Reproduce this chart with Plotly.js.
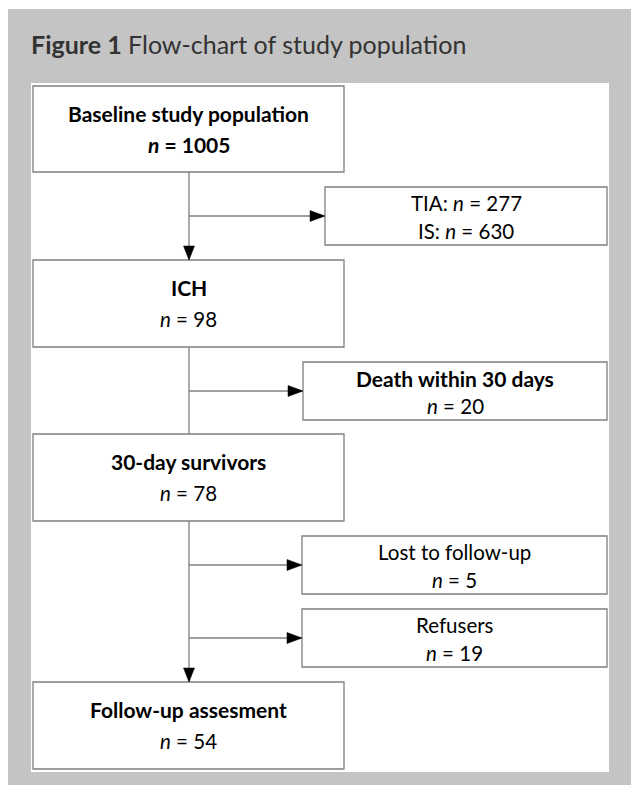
<!DOCTYPE html>
<html>
<head>
<meta charset="utf-8">
<script src="https://cdn.plot.ly/plotly-3.0.1.min.js"></script>
<style>html,body{margin:0;padding:0;background:#fff;}#chart{width:631px;height:785px;}</style>
</head>
<body>
<div id="chart"></div>
<script>
// ---- data ----
const figureTitleBold = 'Figure 1';
const figureTitle = 'Flow-chart of study population';
const mainLabels = ['Baseline study population', 'ICH', '30-day survivors', 'Follow-up assesment'];
const mainN = [1005, 98, 78, 54];
const mainNBold = [true, false, false, false];
const excludedLabels = ['Death within 30 days', 'Lost to follow-up', 'Refusers'];
const excludedN = [20, 5, 19];
const excludedBold = [true, false, false];
const otherTypeLabels = ['TIA', 'IS'];
const otherTypeN = [277, 630];

// ---- layout geometry (positions only) ----
const W = 631, H = 785;
const FONT = 'Lato, Carlito, Calibri, sans-serif';
const LINE = '#7f7f7f';
const mainX = [33, 344];
const mainY = [[86, 172], [260, 347], [434, 521], [682, 769]];
const spineX = 189;
const sideX1 = 607;
// side boxes: first = TIA/IS box, then excluded boxes
const sideX0 = [325, 303, 302, 302];
const sideY = [[187, 245], [362, 420], [536, 594], [609, 667]];
const mainFont = 20.5, boldFont = 21, titleFont = 25;

const shapes = [];
const ann = [];
// backgrounds
shapes.push({type:'rect', xref:'x', yref:'y', x0:8, x1:W, y0:9, y1:H, fillcolor:'#c4c4c4', line:{width:0}, layer:'below'});
shapes.push({type:'rect', xref:'x', yref:'y', x0:31, x1:609, y0:83, y1:772, fillcolor:'#ffffff', line:{width:0}, layer:'below'});

function box(x0, x1, y0, y1) {
  shapes.push({type:'rect', xref:'x', yref:'y', x0:x0, x1:x1, y0:y0, y1:y1, fillcolor:'#ffffff', line:{color:LINE, width:1.3}});
}
function seg(x0, y0, x1, y1) {
  shapes.push({type:'line', xref:'x', yref:'y', x0:x0, y0:y0, x1:x1, y1:y1, line:{color:LINE, width:1.3}});
}
function headRight(x, y) {
  const L = 15, hw = 5.5;
  shapes.push({type:'path', xref:'x', yref:'y', path:`M ${x} ${y} L ${x-L} ${y-hw} L ${x-L} ${y+hw} Z`, fillcolor:'#000', line:{color:'#000', width:0.5}});
}
function headDown(x, y) {
  const L = 14, hw = 5.5;
  shapes.push({type:'path', xref:'x', yref:'y', path:`M ${x} ${y} L ${x-hw} ${y-L} L ${x+hw} ${y-L} Z`, fillcolor:'#000', line:{color:'#000', width:0.5}});
}
function text(x, y, t, size, xanchor) {
  ann.push({xref:'x', yref:'y', x:x, y:y, text:t, showarrow:false, xanchor:xanchor||'center', yanchor:'middle',
    font:{family:FONT, size:size, color:'#000'}});
}
function nText(n, bold) {
  const s = '<i>n</i> = ' + n;
  return bold ? '<b>' + s + '</b>' : s;
}

// title
ann.push({xref:'x', yref:'y', x:29, y:44, xanchor:'left', yanchor:'middle', showarrow:false,
  text:'<b>' + figureTitleBold + '</b> ' + figureTitle, font:{family:FONT, size:titleFont, color:'#333333'}});

// main boxes
mainLabels.forEach((lab, i) => {
  const [y0, y1] = mainY[i];
  box(mainX[0], mainX[1], y0, y1);
  const cx = (mainX[0] + mainX[1]) / 2, cy = (y0 + y1) / 2;
  text(cx, cy - 16, '<b>' + lab + '</b>', boldFont);
  text(cx, cy + 15, nText(mainN[i], mainNBold[i]), mainNBold[i] ? boldFont : mainFont);
});

// spine connectors
seg(spineX, mainY[0][1], spineX, mainY[1][0]); headDown(spineX, mainY[1][0]);
seg(spineX, mainY[1][1], spineX, mainY[2][0]);
seg(spineX, mainY[2][1], spineX, mainY[3][0]); headDown(spineX, mainY[3][0]);

// side boxes
const sideLines = [
  [otherTypeLabels[0] + ': ' + nText(otherTypeN[0], false), otherTypeLabels[1] + ': ' + nText(otherTypeN[1], false)]
].concat(excludedLabels.map((l, i) => [excludedBold[i] ? '<b>' + l + '</b>' : l, nText(excludedN[i], false)]));
const sideFirstBold = [false].concat(excludedBold);

sideLines.forEach((lines, i) => {
  const [y0, y1] = sideY[i];
  const x0 = sideX0[i];
  box(x0, sideX1, y0, y1);
  const cx = (x0 + sideX1) / 2, cy = (y0 + y1) / 2;
  text(cx, cy - 13, lines[0], sideFirstBold[i] ? boldFont : mainFont);
  text(cx, cy + 15, lines[1], mainFont);
  seg(spineX, cy, x0 - 1, cy);
  headRight(x0, cy);
});

const layout = {
  width: W, height: H,
  margin: {l:0, r:0, t:0, b:0, pad:0},
  paper_bgcolor: '#ffffff', plot_bgcolor: '#ffffff',
  xaxis: {range:[0, W], visible:false, fixedrange:true},
  yaxis: {range:[H, 0], visible:false, fixedrange:true},
  shapes: shapes, annotations: ann, showlegend:false
};
Plotly.newPlot('chart', [], layout, {staticPlot:true, displayModeBar:false});
</script>
</body>
</html>
